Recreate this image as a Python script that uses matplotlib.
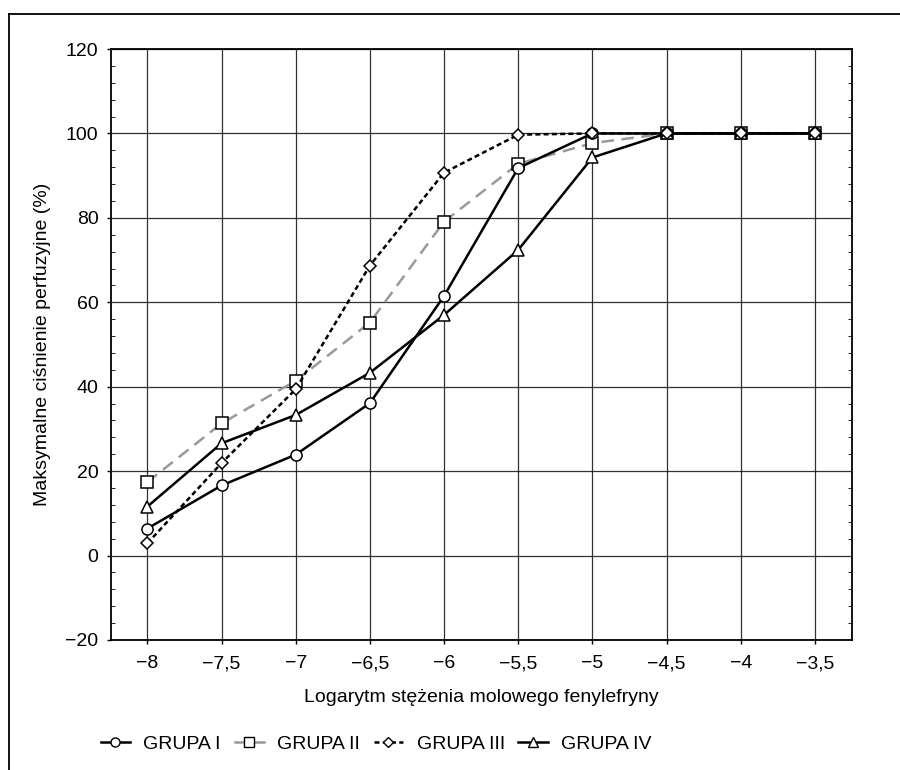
import matplotlib.pyplot as plt
from matplotlib.lines import Line2D
from matplotlib.ticker import MultipleLocator, FuncFormatter

plt.rcParams['font.family'] = ['Liberation Sans', 'DejaVu Sans']

# log molar concentration of phenylephrine
x = [-8, -7.5, -7, -6.5, -6, -5.5, -5, -4.5, -4, -3.5]

grupa1 = [6.4, 16.6, 23.9, 36.1, 61.5, 91.8, 100, 100, 100, 100]
grupa2 = [17.4, 31.3, 41.4, 55.2, 79.1, 92.8, 97.7, 100, 100, 100]
grupa3 = [2.9, 21.9, 39.4, 68.7, 90.7, 99.7, 100, 100, 100, 100]
grupa4 = [11.6, 26.6, 33.3, 43.3, 57.0, 72.4, 94.3, 100, 100, 100]

labels = ['GRUPA I', 'GRUPA II', 'GRUPA III', 'GRUPA IV']

fig = plt.figure(figsize=(9, 7.7), dpi=100)
ax = fig.add_axes([111/900, 1-640/770, 741/900, 591/770])

lw = 1.8
ms = 8
ax.plot(x, grupa1, color='black', lw=lw, marker='o', ms=ms, mfc='white', mec='black', mew=1.1, zorder=5)
ax.plot(x, grupa2, color='#999999', lw=lw, ls=(0, (5, 3)), marker='s', ms=ms, mfc='white', mec='black', mew=1.1, zorder=4)
ax.plot(x, grupa3, color='black', lw=lw, ls=(0, (2, 1.3)), marker='D', ms=6.5, mfc='white', mec='black', mew=1.1, zorder=6)
ax.plot(x, grupa4, color='black', lw=lw, marker='^', ms=ms, mfc='white', mec='black', mew=1.1, zorder=5)

ax.set_xlim(-8.245, -3.25)
ax.set_ylim(-20, 120)
ax.set_xticks(x)
ax.yaxis.set_major_locator(MultipleLocator(20))
ax.yaxis.set_minor_locator(MultipleLocator(4))

def fmt(v, pos):
    s = ('%g' % v).replace('.', ',')
    return s.replace('-', '\u2212')

ax.xaxis.set_major_formatter(FuncFormatter(fmt))
ax.yaxis.set_major_formatter(FuncFormatter(fmt))
ax.tick_params(axis='both', which='major', labelsize=14, length=3, width=1, color='black')
ax.tick_params(axis='y', which='minor', length=3, direction='in', right=True)
ax.tick_params(axis='x', which='major', pad=8)
ax.tick_params(axis='y', which='major', pad=6)

ax.grid(True, which='major', color='black', lw=0.9, alpha=0.8)
ax.set_axisbelow(True)
for s in ax.spines.values():
    s.set_linewidth(1.3)

ax.set_xlabel('Logarytm stężenia molowego fenylefryny', fontsize=14, labelpad=12)
ax.set_ylabel('Maksymalne ciśnienie perfuzyjne (%)', fontsize=14, labelpad=10)

handles = [
    Line2D([], [], color='black', lw=lw, marker='o', ms=6.5, mfc='white', mec='black'),
    Line2D([], [], color='#999999', lw=lw, marker='s', ms=6.5, mfc='white', mec='black'),
    Line2D([], [], color='black', lw=lw, ls=(0, (2, 1.3)), marker='D', ms=5, mfc='white', mec='black'),
    Line2D([], [], color='black', lw=lw, marker='^', ms=6.5, mfc='white', mec='black'),
]
fig.legend(handles, labels, loc='center', bbox_to_anchor=(0.418, 1-744/770), ncol=4,
           frameon=False, fontsize=14, handlelength=1.5, columnspacing=0.7, handletextpad=0.7)

# cropped frame of the article box
fig.add_artist(Line2D([9/900, 1], [1-14/770, 1-14/770], color='black', lw=1.3))
fig.add_artist(Line2D([9/900, 9/900], [0, 1-14/770], color='black', lw=1.3))

fig.savefig('out.png', dpi=100)
